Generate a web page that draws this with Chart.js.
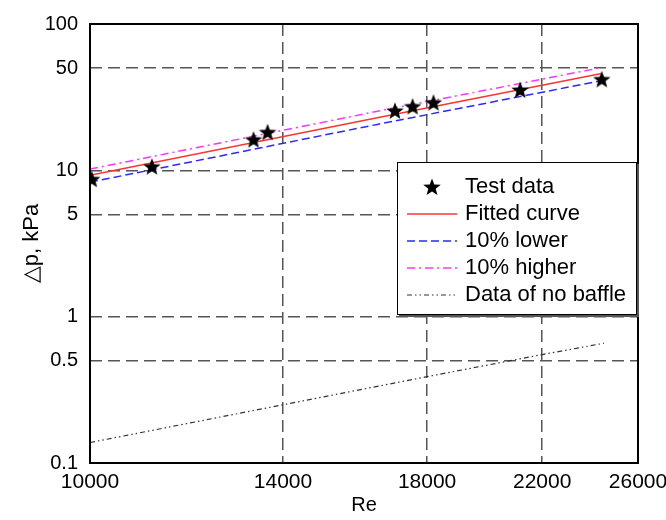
<!DOCTYPE html>
<html>
<head>
<meta charset="utf-8">
<script src="https://cdn.jsdelivr.net/npm/chart.js@4.4.1/dist/chart.umd.min.js"></script>
<style>
  html, body { margin: 0; padding: 0; background: #fff; }
  #wrap { width: 666px; height: 520px; }
</style>
</head>
<body>
<div id="wrap"><canvas id="c" width="666" height="520"></canvas></div>
<script>
// ── data ──
const testRe = [10030, 11140, 13300, 13630, 17020, 17550, 18200, 21170, 24410];
const testDp = [8.69, 10.6, 16.2, 18.2, 25.5, 27.3, 29.0, 35.4, 41.8];

const fitRe = [10000, 16500, 24400];
const fitDp = [9.25, 22.9, 45.9];
const lowerDp = [8.3, 20.6, 41.0];
const higherDp = [10.2, 25.3, 50.4];

const noBaffleRe = [10000, 14000, 18000, 22000, 24500];
const noBaffleDp = [0.138, 0.25, 0.389, 0.551, 0.658];

const xTicks = [10000, 14000, 18000, 22000, 26000];
const yTicks = [0.1, 0.5, 1, 5, 10, 50, 100];

const labels = ['Test data', 'Fitted curve', '10% lower', '10% higher', 'Data of no baffle'];

const pts = (xs, ys) => xs.map((x, i) => ({ x, y: ys[i] }));

// filled five-point star marker
const star = document.createElement('canvas');
star.width = 20; star.height = 20;
(() => {
  const g = star.getContext('2d');
  g.beginPath();
  for (let i = 0; i < 10; i++) {
    const r = i % 2 ? 3.9 : 9.2, a = -Math.PI / 2 + i * Math.PI / 5;
    const px = 10 + r * Math.cos(a), py = 10.6 + r * Math.sin(a);
    i ? g.lineTo(px, py) : g.moveTo(px, py);
  }
  g.closePath(); g.fillStyle = '#000'; g.fill();
})();

Chart.defaults.font.family = "'Liberation Sans', Arial, sans-serif";
Chart.defaults.color = '#000';

const line = (label, xs, ys, color, dash, w) => ({
  label, data: pts(xs, ys), showLine: true, borderColor: color, backgroundColor: color,
  borderWidth: w, borderDash: dash, pointRadius: 0, order: 1
});

const frame = {
  id: 'frame',
  afterDatasetsDraw(chart) {
    const { ctx, chartArea: a } = chart;
    ctx.save();
    ctx.strokeStyle = '#000'; ctx.lineWidth = 2;
    ctx.strokeRect(a.left, a.top, a.right - a.left, a.bottom - a.top);
    ctx.restore();
  }
};

const boxLegend = {
  id: 'boxLegend',
  afterDraw(chart) {
    const { ctx, chartArea: a } = chart;
    const bx = a.right - 241, by = 162, bw = 240, bh = 153;
    ctx.save();
    ctx.fillStyle = '#555';
    ctx.fillRect(bx + 2, by + 2, bw, bh);
    ctx.fillStyle = '#fff';
    ctx.fillRect(bx, by, bw, bh);
    ctx.strokeStyle = '#000'; ctx.lineWidth = 1;
    ctx.strokeRect(bx + 0.5, by + 0.5, bw - 1, bh - 1);
    ctx.font = "22px 'Liberation Sans', Arial, sans-serif";
    ctx.textBaseline = 'middle';
    chart.data.datasets.forEach((ds, i) => {
      const y = by + 25 + i * 27;
      if (ds.pointStyle instanceof HTMLCanvasElement) {
        ctx.drawImage(ds.pointStyle, bx + 35 - 10, y - 10);
      } else {
        ctx.beginPath();
        ctx.setLineDash(ds.borderDash || []);
        ctx.strokeStyle = ds.borderColor; ctx.lineWidth = ds.borderWidth;
        ctx.moveTo(bx + 10, y); ctx.lineTo(bx + 60, y); ctx.stroke();
        ctx.setLineDash([]);
      }
      ctx.fillStyle = '#000';
      ctx.fillText(ds.label, bx + 68, y);
    });
    ctx.restore();
  }
};

new Chart(document.getElementById('c'), {
  type: 'scatter',
  data: {
    datasets: [
      { label: labels[0], data: pts(testRe, testDp), pointStyle: star, pointRadius: 10,
        borderColor: '#000', backgroundColor: '#000', order: 0 },
      line(labels[1], fitRe, fitDp, '#ff3333', [], 1.5),
      line(labels[2], fitRe, lowerDp, '#2a2aff', [8, 4], 1.5),
      line(labels[3], fitRe, higherDp, '#ff33ff', [8, 4, 2, 4], 1.5),
      line(labels[4], noBaffleRe, noBaffleDp, '#333', [5, 3, 1.5, 3, 1.5, 3], 1.2)
    ]
  },
  options: {
    responsive: false,
    animation: false,
    layout: { padding: { top: 20, right: 28, left: 0, bottom: 0 } },
    plugins: { legend: { display: false }, tooltip: { enabled: false } },
    scales: {
      x: {
        type: 'logarithmic', min: 10000, max: 26000,
        afterBuildTicks: s => { s.ticks = xTicks.map(v => ({ value: v })); },
        afterFit: s => { s.height = 57; s.paddingLeft = 0; s.paddingRight = 0; },
        ticks: { font: { size: 21 }, padding: 7, maxRotation: 0, autoSkip: false,
                 callback: v => String(v) },
        grid: { color: '#555', lineWidth: 1.5, drawTicks: false },
        border: { display: false, dash: [12, 6] },
        title: { display: true, text: 'Re', font: { size: 20 }, padding: { top: 0, bottom: 3 } }
      },
      y: {
        type: 'logarithmic', min: 0.1, max: 100,
        afterBuildTicks: s => { s.ticks = yTicks.map(v => ({ value: v })); },
        afterFit: s => { s.width = 90; },
        ticks: { font: { size: 20 }, padding: 12, autoSkip: false, callback: v => String(v) },
        grid: { color: '#555', lineWidth: 1.5, drawTicks: false },
        border: { display: false, dash: [12, 6] },
        title: { display: true, text: '△p, kPa', font: { size: 22 }, padding: { top: 19, bottom: 0 } }
      }
    }
  },
  plugins: [frame, boxLegend]
});
</script>
</body>
</html>
